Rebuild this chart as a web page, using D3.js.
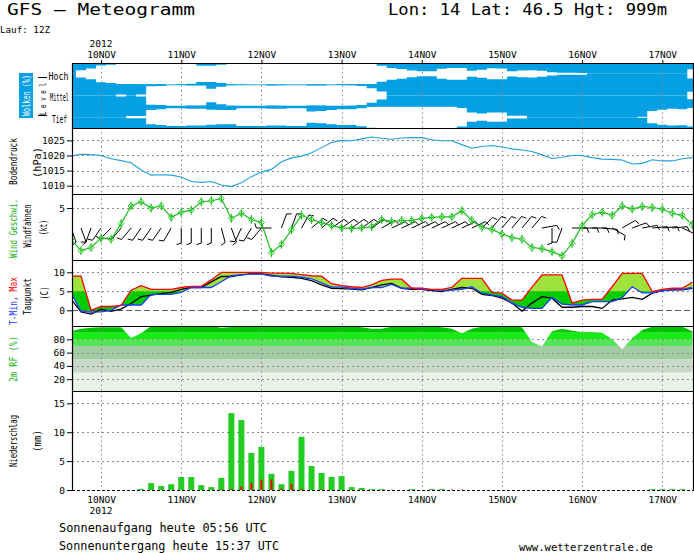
<!DOCTYPE html>
<html><head><meta charset="utf-8">
<script src="https://cdn.jsdelivr.net/npm/d3@7"></script>
<style>
html,body{margin:0;padding:0;background:#fff;}
svg{display:block;}
text{font-family:"DejaVu Sans Mono","Liberation Mono",monospace;}
</style></head><body>
<svg id="c" width="694" height="553"></svg>
<script>
// ---------------- DATA (3-hourly, first value = 9NOV 15Z) ----------------
const startHour = -9, stepHours = 3;   // hours relative to 10NOV 00Z
const dayLabels = ["10NOV","11NOV","12NOV","13NOV","14NOV","15NOV","16NOV","17NOV"];
const yearLabel = "2012";

const pressure = [1019.8,1020.4,1020.3,
  1020.0,1018.9,1018.3,1017.6,1015.2,1013.5,1013.6,1013.5,
  1012.9,1011.4,1011.1,1011.4,1010.2,1009.7,1011.0,1013.0,
  1014.5,1015.4,1017.9,1019.2,1019.8,1020.9,1022.6,1024.3,
  1025.0,1024.9,1025.5,1026.1,1025.7,1025.4,1025.8,1025.9,
  1025.9,1025.2,1024.9,1024.9,1023.6,1022.4,1023.0,1023.3,
  1022.8,1022.2,1021.8,1021.3,1020.2,1019.0,1019.4,1020.0,
  1020.0,1019.3,1018.8,1018.7,1018.5,1017.2,1017.4,1018.6,
  1018.2,1018.2,1018.9,1019.3];

const windSpeed = [2.0,0.9,1.2,
  2.1,2.0,3.5,5.2,5.6,5.0,5.2,4.1,
  4.6,4.8,5.6,5.7,5.9,4.0,4.5,3.9,
  3.6,0.7,1.5,2.9,4.3,3.9,3.6,3.3,
  3.1,3.05,3.1,3.2,3.9,3.7,3.8,3.8,
  4.0,4.1,4.15,4.15,4.75,3.8,3.15,2.95,
  2.5,2.15,2.0,1.2,1.1,0.8,0.4,1.6,
  3.3,4.35,4.6,4.3,5.2,4.9,5.15,5.05,
  4.9,4.5,4.3,3.4];

const windDir = [160,160,200,
  215,225,220,220,215,215,215,210,
  180,180,180,180,165,160,205,210,
  220,270,20,20,30,50,50,55,
  55,55,55,55,60,65,65,65,
  65,65,65,65,65,65,45,40,
  40,40,40,40,80,180,200,90,
  90,90,95,120,60,70,80,85,
  85,85,115,60];

const tMax = [9.0,9.0,0.0,
  1.0,1.0,1.3,5.3,6.5,5.5,5.5,5.5,
  6.0,6.3,6.3,8.0,10.0,10.0,10.0,10.0,
  10.0,9.8,9.8,9.7,9.4,9.1,9.0,7.0,
  6.5,6.2,6.0,6.7,7.9,8.2,8.2,5.8,
  5.8,5.5,5.5,6.0,8.4,8.4,8.4,4.7,
  4.5,2.7,2.7,6.1,9.3,9.3,9.3,1.9,
  2.7,2.9,2.9,6.2,9.7,9.7,9.7,4.9,
  5.5,5.8,5.8,7.4];

const tMin = [4.6,-0.3,-0.5,
  -0.4,0.0,1.4,1.4,1.4,4.2,4.2,4.2,
  4.7,6.0,6.0,6.0,7.5,9.1,9.3,9.5,
  9.5,9.0,9.0,9.0,8.7,8.3,7.2,6.1,
  6.1,5.8,5.6,6.0,6.0,6.8,5.8,5.8,
  5.5,5.4,5.3,5.3,5.5,6.2,4.5,4.0,
  3.6,1.9,0.8,0.5,0.5,3.4,1.6,1.4,
  1.4,2.3,2.3,2.3,3.3,6.2,4.6,4.6,
  5.1,5.4,5.5,6.0];

const dewPoint = [3.0,-0.4,-1.0,
  0.3,-0.3,0.3,1.8,3.6,4.0,4.4,4.7,
  5.5,6.0,6.0,7.5,8.9,8.9,9.3,9.6,
  9.6,9.2,8.8,8.7,8.4,7.8,6.7,5.8,
  5.7,5.6,5.4,6.0,6.7,7.1,5.8,5.5,
  5.5,5.2,4.9,5.5,6.0,5.8,4.2,3.9,
  3.2,1.9,-0.2,1.9,3.6,3.2,0.8,0.8,
  1.0,1.0,0.5,2.7,3.0,3.4,2.9,4.5,
  5.2,5.4,5.4,5.8];

const relHum = [92,96,97.5,
  98,98,98,82,89,100,100,100,
  100,100,100,100,97.5,98.5,100,100,
  100,100,100,100,100,100,100,100,
  100,100,98,96,96,99,99,99,
  99,99,98,96,89,96,99,99,
  99,99,98,76,69,92,96,93,
  91,91,90,80,65,82,94,99,
  99,99,99,92];

const precipTotal = [0,0,0,
  0,0,0,0,0.2,1.2,0.7,1.0,
  2.25,2.25,0.85,0.5,2.1,13.3,12.1,6.4,
  7.45,2.8,1.0,3.3,9.2,4.15,2.95,2.25,
  2.4,0.5,0.35,0.15,0.15,0,0,0.15,
  0,0.15,0.15,0,0,0,0,0,
  0,0,0,0,0,0,0,0,
  0,0,0,0,0,0,0,0.15,
  0.15,0.15,0.15,0];

const precipRed = [0,0,0,
  0,0,0,0,0,0,0,0,
  0,0,0,0,0.1,0.2,0.6,1.3,
  1.8,1.8,0.25,1.1,0.2,0,0.1,0,
  0,0,0,0,0,0.08,0,0,
  0,0,0,0.08,0.08,0,0,0,
  0,0,0,0,0,0,0,0,
  0,0,0,0,0,0,0,0,
  0,0,0,0];

const cloudHigh = [1.0,0.66,0.51,
  0.23,0.15,0.06,0.06,0.05,0.05,0.03,0,
  0.05,0.09,0.25,0.25,0.15,0.02,0,0,
  0,0.02,0,0,0,0.02,0.02,0,
  0.06,0.03,0.06,0.06,0.26,0.46,0.55,0.69,
  0.77,0.77,0.54,0.46,0.46,0.72,0.63,0.49,
  0.51,0.75,0.69,0.66,0.72,0.85,0.91,0.91,
  0.92,1,1,1,1,1,1,1,
  1,1,1,0.57];

const cloudMid = [1,1,1,
  1,1,0.9,1.0,0.9,0.15,0.12,0,
  0.02,0.08,0.08,0.37,0.2,0.06,0.03,0,
  0,0.08,0.05,0,0,0.08,0.08,0,
  0,0.06,0.12,0.34,0.64,1,1,1,
  1,1,1,1,1,1,1,1,
  1,1,1,1,1,1,1,1,
  1,1,1,1,1,1,1,1,
  1,1,1,0.65];

const cloudLow = [1,1,1,
  1,1,1,0.9,0.9,0.34,0.28,0.18,
  0.18,0.22,0.22,0.31,0.34,0.34,0.18,0.18,
  0.18,0.23,0.23,0.18,0.18,0.48,0.43,0.34,
  0.28,0.28,0.17,0.03,0,0,0,0,
  0,0,0,0,0.15,0.58,0.66,0.57,
  0.58,0.88,0.88,1,1,1,1,1,
  1,1,1,1,1,1,0.95,0.43,
  0.31,0.23,0.26,0.15];

const presTicks = [1010,1015,1020,1025];
const windTicks = [5];
const tempTicks = [0,5,10];
const rhTicks = [20,40,60,80];
const precTicks = [0,5,10,15];
const rhBandEdges = [0,30,50,70,80,90,100];
const rhBandColors = ["#e8f2e8","#c9d9c9","#a2cda2","#55e455","#14ec14","#00c400"];

// ---------------- LAYOUT ----------------
const svg = d3.select("#c");
const X0 = 72, X1 = 693;
const P = {cloud:[63,128], pres:[128,194], wind:[194,260], temp:[260,326], rh:[326,391], prec:[391,490]};
const hours = pressure.map((_, i) => startHour + i * stepHours);
const dayHours = dayLabels.map((_, i) => i * 24);
const x = d3.scaleLinear().domain([-8.7, 177.2]).range([X0, X1]);

const yP = d3.scaleLinear().domain([1007.25, 1029.1]).range([P.pres[1], P.pres[0]]);
const yW = d3.scaleLinear().domain([0, 6.35]).range([P.wind[1], P.wind[0]]);
const yT = d3.scaleLinear().domain([-4.13, 13.24]).range([P.temp[1], P.temp[0]]);
const yR = d3.scaleLinear().domain([0, 100]).range([392.5, 326]);
const yN = d3.scaleLinear().domain([0, 17.13]).range([P.prec[1], P.prec[0]]);

const cloudBlue = "#05a0e3", gridGray = "#8a8a8a";
const defs = svg.append("defs");
Object.entries(P).forEach(([k, [t, b]]) => {
  defs.append("clipPath").attr("id", "clip-" + k).append("rect")
    .attr("x", X0).attr("y", t).attr("width", X1 - X0).attr("height", b - t);
});

function hGrid(g, scale, vals, dash, color) {
  g.selectAll(null).data(vals).join("line")
    .attr("x1", X0).attr("x2", X1)
    .attr("y1", d => Math.round(scale(d)) + 0.5).attr("y2", d => Math.round(scale(d)) + 0.5)
    .attr("stroke", color || gridGray).attr("stroke-width", 1).attr("stroke-dasharray", dash || "2,3");
}
function vGrid(g, t, b) {
  g.selectAll(null).data(dayHours).join("line")
    .attr("x1", d => Math.round(x(d)) + 0.5).attr("x2", d => Math.round(x(d)) + 0.5)
    .attr("y1", t).attr("y2", b)
    .attr("stroke", gridGray).attr("stroke-width", 1).attr("stroke-dasharray", "1.5,3");
}
function yAxis(scale, vals, fmt) {
  const g = svg.append("g").attr("transform", `translate(${X0},0)`)
    .call(d3.axisLeft(scale).tickValues(vals).tickSize(5).tickPadding(2).tickFormat(fmt || d3.format("d")));
  g.select(".domain").remove();
  g.selectAll("text").attr("font-size", 9.5).attr("fill", "#000")
    .attr("font-family", '"DejaVu Sans Mono",monospace');
  g.selectAll("line").attr("stroke", "#000");
  return g;
}
function vlabel(xc, yc, parts, len, size) {
  const t = svg.append("text").attr("transform", `translate(${xc},${yc}) rotate(-90)`)
    .attr("text-anchor", "middle").attr("dy", "0.35em").attr("font-size", size || 10)
    .attr("textLength", len).attr("lengthAdjust", "spacingAndGlyphs");
  parts.forEach(([s, c]) => t.append("tspan").attr("fill", c).text(s));
  return t;
}

// ---------------- CLOUDS ----------------
{
  const g = svg.append("g").attr("clip-path", "url(#clip-cloud)");
  const bandH = (P.cloud[1] - P.cloud[0]) / 3;
  [cloudHigh, cloudMid, cloudLow].forEach((arr, j) => {
    const top = P.cloud[0] + j * bandH, bot = top + bandH;
    const pts = arr.map((c, i) => ({h: hours[i] - stepHours / 2, c}));
    pts.push({h: hours[hours.length - 1] + stepHours / 2, c: arr[arr.length - 1]});
    g.append("path").datum(pts)
      .attr("d", d3.area().curve(d3.curveStepAfter).x(d => x(d.h)).y0(top - 0.5).y1(d => top + d.c * bandH / 2))
      .attr("fill", cloudBlue);
    g.append("path").datum(pts)
      .attr("d", d3.area().curve(d3.curveStepAfter).x(d => x(d.h)).y0(bot + 0.5).y1(d => bot - d.c * bandH / 2))
      .attr("fill", cloudBlue);
  });
  vGrid(svg.append("g"), P.cloud[0], P.cloud[1]);
  // left labels
  svg.append("rect").attr("x", 19).attr("y", 73).attr("width", 14).attr("height", 45).attr("fill", cloudBlue);
  vlabel(26.5, 95.5, [["Wolken (%)", "#fff"]], 41, 10);
  vlabel(42.5, 99, [["L e v e l", "#000"]], 32, 9);
  svg.append("line").attr("x1", 38).attr("x2", 47).attr("y1", 77.5).attr("y2", 77.5).attr("stroke", "#000");
  svg.append("line").attr("x1", 38).attr("x2", 47).attr("y1", 115.5).attr("y2", 115.5).attr("stroke", "#000");
  const lv = [["Hoch", 48.5, 79.5, 20], ["Mittel", 50, 101, 19], ["Tief", 52, 123, 15]];
  lv.forEach(([s, lx, ly, len]) => svg.append("text").attr("x", lx).attr("y", ly).attr("font-size", 10)
    .attr("textLength", len).attr("lengthAdjust", "spacingAndGlyphs").text(s));
}

// ---------------- PRESSURE ----------------
{
  const g = svg.append("g");
  hGrid(g, yP, presTicks);
  vGrid(g, P.pres[0], P.pres[1]);
  svg.append("g").attr("clip-path", "url(#clip-pres)").append("path")
    .datum(pressure.map((v, i) => [hours[i], v]))
    .attr("d", d3.line().x(d => x(d[0])).y(d => yP(d[1])))
    .attr("fill", "none").attr("stroke", "#1f9fe2").attr("stroke-width", 1.1);
  yAxis(yP, presTicks);
  vlabel(13.5, 161.5, [["Bodendruck", "#000"]], 47, 10);
  vlabel(37, 162.5, [["(hPa)", "#000"]], 31, 10);
}

// ---------------- WIND ----------------
{
  const g = svg.append("g");
  hGrid(g, yW, windTicks);
  vGrid(g, P.wind[0], P.wind[1]);
  const gc = svg.append("g").attr("clip-path", "url(#clip-wind)");
  const stationY = 228, L = 15, F = 5, th = 70 * Math.PI / 180;
  const barbs = windDir.map((D, i) => {
    const r = D * Math.PI / 180, dx = Math.sin(r), dy = -Math.cos(r);
    const cx = x(hours[i]), ex = cx + L * dx, ey = stationY + L * dy;
    const fx = dx * Math.cos(th) - dy * Math.sin(th), fy = dx * Math.sin(th) + dy * Math.cos(th);
    return `M${cx},${stationY}L${ex},${ey}L${ex + F * fx},${ey + F * fy}`;
  });
  gc.selectAll(null).data(barbs).join("path").attr("d", d => d)
    .attr("fill", "none").attr("stroke", "#000").attr("stroke-width", 1);
  const wd = windSpeed.map((v, i) => [hours[i], v]);
  gc.append("path").datum(wd).attr("d", d3.line().x(d => x(d[0])).y(d => yW(d[1])))
    .attr("fill", "none").attr("stroke", "#1fc21f").attr("stroke-width", 1.2);
  gc.selectAll(null).data(wd).join("path")
    .attr("transform", d => `translate(${x(d[0])},${yW(d[1])})`)
    .attr("d", "M0,-3L3,0L0,3L-3,0ZM0,-4.5V4.5")
    .attr("fill", "none").attr("stroke", "#1fc21f").attr("stroke-width", 1);
  yAxis(yW, windTicks);
  vlabel(13, 228.5, [["Wind Geschwi.", "#10b010"]], 59, 10);
  vlabel(27, 226, [["Windfahnen", "#000"]], 43, 10);
  vlabel(43.5, 227.5, [["(kt)", "#000"]], 15, 10);
}

// ---------------- TEMPERATURE ----------------
{
  const g = svg.append("g");
  hGrid(g, yT, [5, 10]);
  vGrid(g, P.temp[0], P.temp[1]);
  const five = yT(5);
  defs.append("clipPath").attr("id", "clip-t-hi").append("rect")
    .attr("x", X0).attr("y", P.temp[0]).attr("width", X1 - X0).attr("height", five - P.temp[0]);
  defs.append("clipPath").attr("id", "clip-t-lo").append("rect")
    .attr("x", X0).attr("y", five).attr("width", X1 - X0).attr("height", P.temp[1] - five);
  const td = hours.map((h, i) => ({h, mx: tMax[i], mn: tMin[i], dp: dewPoint[i]}));
  const area = d3.area().x(d => x(d.h)).y0(d => yT(d.mn)).y1(d => yT(d.mx));
  svg.append("path").datum(td).attr("d", area).attr("fill", "#9fe23c").attr("clip-path", "url(#clip-t-hi)");
  svg.append("path").datum(td).attr("d", area).attr("fill", "#00cc00").attr("clip-path", "url(#clip-t-lo)");
  hGrid(svg.append("g"), yT, [0], "6,3", "#606060");
  const gc = svg.append("g").attr("clip-path", "url(#clip-temp)");
  [["dp", "#000"], ["mn", "#1d3cff"], ["mx", "#ff0000"]].forEach(([k, c]) => {
    gc.append("path").datum(td).attr("d", d3.line().x(d => x(d.h)).y(d => yT(d[k])))
      .attr("fill", "none").attr("stroke", c).attr("stroke-width", 1.3);
  });
  yAxis(yT, tempTicks);
  vlabel(13, 301, [["T-Min, ", "#1d3cff"], ["Max", "#ff0000"]], 48, 10);
  vlabel(27, 296.5, [["Taupunkt", "#000"]], 37, 10);
  vlabel(44, 293, [["(C)", "#000"]], 13, 10);
}

// ---------------- RELATIVE HUMIDITY ----------------
{
  const rd = relHum.map((v, i) => [hours[i], v]);
  defs.append("clipPath").attr("id", "clip-rharea").append("path").datum(rd)
    .attr("d", d3.area().x(d => x(d[0])).y0(yR(0)).y1(d => yR(d[1])));
  const gb = svg.append("g").attr("clip-path", "url(#clip-rh)").append("g").attr("clip-path", "url(#clip-rharea)");
  const bands = rhBandColors.map((c, i) => ({lo: rhBandEdges[i], hi: rhBandEdges[i + 1], c}));
  gb.selectAll(null).data(bands).join("rect")
    .attr("x", X0 - 10).attr("width", X1 - X0 + 20)
    .attr("y", d => yR(d.hi)).attr("height", d => yR(d.lo) - yR(d.hi)).attr("fill", d => d.c);
  const g = svg.append("g");
  hGrid(g, yR, rhTicks);
  vGrid(g, P.rh[0], P.rh[1]);
  yAxis(yR, rhTicks);
  vlabel(13, 359, [["2m RF (%)", "#10b010"]], 46, 10);
}

// ---------------- PRECIPITATION ----------------
{
  const g = svg.append("g");
  hGrid(g, yN, [5, 10, 15]);
  vGrid(g, P.prec[0], P.prec[1]);
  const pd = hours.map((h, i) => ({h, v: precipTotal[i], r: precipRed[i]}));
  svg.append("g").selectAll("rect").data(pd.filter(d => d.v > 0)).join("rect")
    .attr("x", d => x(d.h) - 3).attr("width", 6)
    .attr("y", d => yN(d.v)).attr("height", d => yN(0) - yN(d.v)).attr("fill", "#22cc22");
  svg.append("g").selectAll("rect").data(pd.filter(d => d.r > 0)).join("rect")
    .attr("x", d => x(d.h) - 1).attr("width", 2)
    .attr("y", d => yN(d.r)).attr("height", d => yN(0) - yN(d.r)).attr("fill", "#ff0000");
  svg.append("line").attr("x1", X0).attr("x2", X1).attr("y1", 490.5).attr("y2", 490.5)
    .attr("stroke", "#000").attr("stroke-width", 1).attr("stroke-dasharray", "3,2");
  yAxis(yN, precTicks);
  vlabel(13.5, 441, [["Niederschlag", "#000"]], 52, 10);
  vlabel(37, 441, [["(mm)", "#000"]], 22, 10);
}

// ---------------- FRAME ----------------
{
  const f = svg.append("g").attr("stroke", "#000").attr("stroke-width", 1.2);
  [63, 128, 194, 260, 326, 391].forEach(y => f.append("line").attr("x1", X0).attr("x2", X1 + 0.6).attr("y1", y + 0.5).attr("y2", y + 0.5));
  [X0, X1].forEach(xx => f.append("line").attr("x1", xx + 0.5).attr("x2", xx + 0.5).attr("y1", 63).attr("y2", 491));
}

// ---------------- DATE AXES ----------------
{
  const top = svg.append("g").attr("transform", "translate(0,63)")
    .call(d3.axisTop(x).tickValues(dayHours).tickSize(3).tickPadding(2).tickFormat((d, i) => dayLabels[i]));
  top.select(".domain").remove();
  top.selectAll("line").attr("stroke", "#000");
  top.selectAll("text").attr("font-size", 9.5).attr("fill", "#000").attr("font-family", '"DejaVu Sans Mono",monospace');
  const bot = svg.append("g").attr("transform", "translate(0,490)")
    .call(d3.axisBottom(x).tickValues(dayHours).tickSize(0).tickPadding(6.3).tickFormat((d, i) => dayLabels[i]));
  bot.select(".domain").remove();
  bot.selectAll("text").attr("font-size", 9.5).attr("fill", "#000").attr("font-family", '"DejaVu Sans Mono",monospace');
  svg.append("text").attr("x", x(0)).attr("y", 47).attr("text-anchor", "middle").attr("font-size", 9.5).text(yearLabel);
  svg.append("text").attr("x", x(0)).attr("y", 514).attr("text-anchor", "middle").attr("font-size", 9.5).text(yearLabel);
}

// ---------------- TITLES ----------------
svg.append("text").attr("x", 7).attr("y", 14.5).attr("font-size", 15)
  .attr("textLength", 188).attr("lengthAdjust", "spacingAndGlyphs").text("GFS – Meteogramm");
svg.append("text").attr("x", 388).attr("y", 15).attr("font-size", 15)
  .attr("textLength", 279).attr("lengthAdjust", "spacingAndGlyphs").text("Lon: 14 Lat: 46.5 Hgt: 999m");
svg.append("text").attr("x", 0).attr("y", 33).attr("font-size", 9)
  .attr("textLength", 50).attr("lengthAdjust", "spacingAndGlyphs").text("Lauf: 12Z");
svg.append("text").attr("x", 59).attr("y", 532).attr("font-size", 12)
  .attr("textLength", 208).attr("lengthAdjust", "spacingAndGlyphs").text("Sonnenaufgang heute 05:56 UTC");
svg.append("text").attr("x", 59).attr("y", 550).attr("font-size", 12)
  .attr("textLength", 220).attr("lengthAdjust", "spacingAndGlyphs").text("Sonnenuntergang heute 15:37 UTC");
svg.append("text").attr("x", 519).attr("y", 551).attr("font-size", 11)
  .attr("textLength", 134).attr("lengthAdjust", "spacingAndGlyphs").text("www.wetterzentrale.de");
</script>
</body></html>
